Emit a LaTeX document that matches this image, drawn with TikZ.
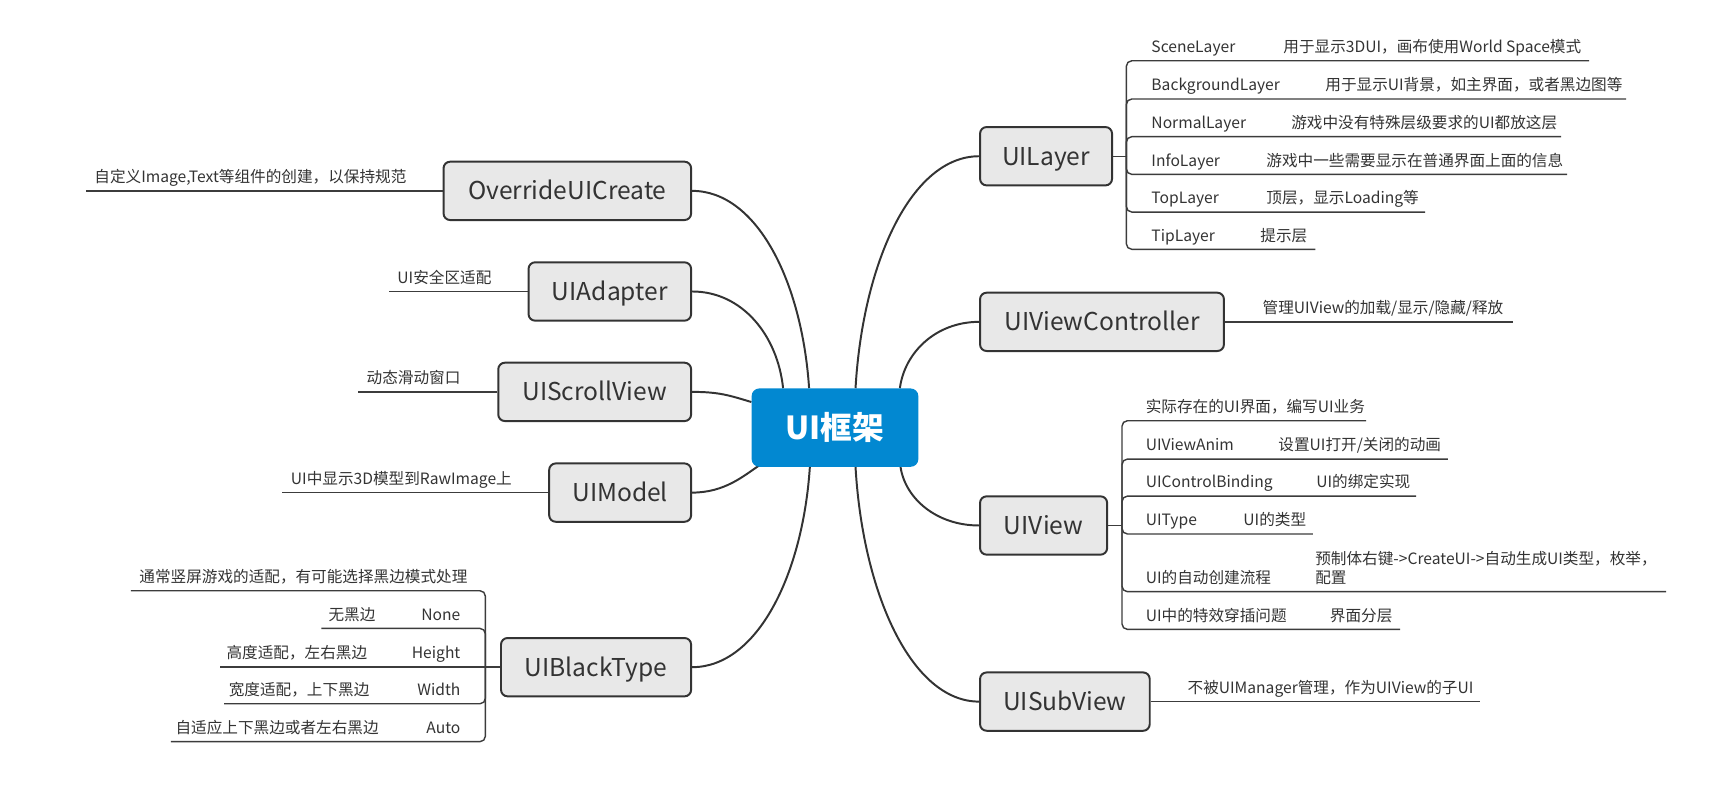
\documentclass[tikz,border=0pt]{standalone}
\usepackage{fontspec}
\setmainfont{Noto Sans CJK SC}
\usetikzlibrary{backgrounds,calc}
\definecolor{ink}{HTML}{333333}
\definecolor{linec}{HTML}{3C3C3C}
\definecolor{boxfill}{HTML}{E8E8E8}
\definecolor{centerblue}{HTML}{0288D1}
\tikzset{
  mainbox/.style={draw=ink, line width=1.8pt, fill=boxfill, rounded corners=6pt,
    minimum height=53.4pt, inner sep=0pt, text=ink, text height=16.2pt, text depth=0pt,
    font=\fontsize{22.5}{27}\selectfont},
  rootbox/.style={fill=centerblue, rounded corners=7pt, minimum width=152.6pt,
    minimum height=71.7pt, inner sep=0pt, text=white, font=\fontsize{29}{34}\selectfont\bfseries},
  conn/.style={draw=ink, line width=1.8pt},
  itemline/.style={draw=linec, line width=1.3pt, rounded corners=5pt},
  lbl/.style={inner sep=0pt, anchor=base west, text=ink, font=\fontsize{14.3}{17}\selectfont},
  lblr/.style={lbl, anchor=base east},
}
\begin{document}
\begin{tikzpicture}[x=1pt,y=-1pt]
\useasboundingbox (0,0) rectangle (1568,718.6);

% ---------- main nodes ----------
\node[rootbox] (root) at (764.3,391.4) {UI框架};
\node[mainbox, minimum width=120.8pt, anchor=west] (layer) at (896.2,143) {UILayer};
\node[mainbox, minimum width=223.2pt, anchor=west] (vctrl) at (896.2,294.6) {UIViewController};
\node[mainbox, minimum width=116.3pt, anchor=west] (view) at (896.2,481) {UIView};
\node[mainbox, minimum width=155.3pt, anchor=west] (sub) at (896.2,642.2) {UISubView};
\node[mainbox, minimum width=226.6pt, anchor=east] (ovr) at (633.5,174.7) {OverrideUICreate};
\node[mainbox, minimum width=148.8pt, anchor=east] (adp) at (633.5,266.8) {UIAdapter};
\node[mainbox, minimum width=176.5pt, anchor=east] (scr) at (633.5,358.7) {UIScrollView};
\node[mainbox, minimum width=129.9pt, anchor=east] (mdl) at (633.5,450.9) {UIModel};
\node[mainbox, minimum width=174pt, anchor=east] (blk) at (633.5,610.7) {UIBlackType};

% ---------- connectors root -> main ----------
\begin{scope}[on background layer]
\draw[conn] (layer.west) .. controls +(-61.8,0) and +(6.7,-115.3) .. ([xshift=95.3pt]root.north west);
\draw[conn] (vctrl.west) .. controls +(-39.4,0) and +(4.3,-32.9) .. ([xshift=135.9pt]root.north west);
\draw[conn] (view.west) .. controls +(-39.1,0) and +(4.3,28.8) .. ([xshift=136.5pt]root.south west);
\draw[conn] (sub.west) .. controls +(-61.8,0) and +(6.7,115.7) .. ([xshift=95.3pt]root.south west);
\draw[conn] (ovr.east) .. controls +(59.3,0) and +(-6.5,-97.7) .. ([xshift=52.8pt]root.north west);
\draw[conn] (adp.east) .. controls +(46.2,0) and +(-5,-48) .. ([xshift=29pt]root.north west);
\draw[conn] (scr.east) .. controls +(25,0) and +(-20,-6) .. ([yshift=23.4pt]root.west);
\draw[conn] (mdl.east) .. controls +(30,0) and +(-15,10) .. ([xshift=8pt,yshift=2pt]root.south west);
\draw[conn] (blk.east) .. controls +(59.7,0) and +(-6.5,98.6) .. ([xshift=53.5pt]root.south west);
\end{scope}

% ---------- UILayer branch ----------
\coordinate (lj) at (1031,143);
\coordinate (l1) at (1454.6,55.6);
\coordinate (l2) at (1488.5,90.6);
\coordinate (l3) at (1429,125.1);
\coordinate (l4) at (1434.5,159.6);
\coordinate (l5) at (1304.5,194.1);
\coordinate (l6) at (1204,228.2);
\draw[itemline] (layer.east) -- (lj);
\foreach \e in {l1,l2,l3,l4,l5,l6} \draw[itemline] (lj) |- (\e);
\node[lbl] (l1a) at (1053.8,48.1) {SceneLayer};
\node[lbl] (l1b) at (1174.6,48.1) {用于显示3DUI，画布使用World Space模式};
\node[lbl] (l2a) at (1053.8,83.1) {BackgroundLayer};
\node[lbl] (l2b) at (1213,83.1) {用于显示UI背景，如主界面，或者黑边图等};
\node[lbl] (l3a) at (1053.8,117.6) {NormalLayer};
\node[lbl] (l3b) at (1181.8,117.6) {游戏中没有特殊层级要求的UI都放这层};
\node[lbl] (l4a) at (1053.8,152.1) {InfoLayer};
\node[lbl] (l4b) at (1159,152.1) {游戏中一些需要显示在普通界面上面的信息};
\node[lbl] (l5a) at (1053.8,186.6) {TopLayer};
\node[lbl] (l5b) at (1159,186.6) {顶层，显示Loading等};
\node[lbl] (l6a) at (1053.8,220.7) {TipLayer};
\node[lbl] (l6b) at (1153.5,220.7) {提示层};

% ---------- UIViewController branch ----------
\coordinate (vcE) at (1384.5,294.6);
\draw[itemline] (vctrl.east) -- (vcE);
\node[lbl] (vct) at (1155.6,287.1) {管理UIView的加载/显示/隐藏/释放};

% ---------- UIView branch ----------
\coordinate (vj) at (1027,481);
\coordinate (v1) at (1250.4,385.1);
\coordinate (v2) at (1325.4,420.2);
\coordinate (v3) at (1296.2,454.1);
\coordinate (v4) at (1201.7,488.8);
\coordinate (v5) at (1525,541.6);
\coordinate (v6) at (1281.6,576.1);
\draw[itemline] (view.east) -- (vj);
\foreach \e in {v1,v2,v3,v4,v5,v6} \draw[itemline] (vj) |- (\e);
\node[lbl] (v1a) at (1048.6,377.6) {实际存在的UI界面，编写UI业务};
\node[lbl] (v2a) at (1048.6,412.7) {UIViewAnim};
\node[lbl] (v2b) at (1170,412.7) {设置UI打开/关闭的动画};
\node[lbl] (v3a) at (1048.6,446.6) {UIControlBinding};
\node[lbl] (v3b) at (1204.7,446.6) {UI的绑定实现};
\node[lbl] (v4a) at (1048.6,481.3) {UIType};
\node[lbl] (v4b) at (1138,481.3) {UI的类型};
\node[lbl] (v5a) at (1048.6,534.1) {UI的自动创建流程};
\node[lbl] (v5b) at (1203.8,517.1) {预制体右键->CreateUI->自动生成UI类型，枚举，};
\node[lbl] (v5c) at (1203.8,534.1) {配置};
\node[lbl] (v6a) at (1048.6,568.6) {UI中的特效穿插问题};
\node[lbl] (v6b) at (1217.2,568.6) {界面分层};

% ---------- UISubView branch ----------
\coordinate (sbE) at (1354.5,642.2);
\draw[itemline] (sub.east) -- (sbE);
\node[lbl] (sbt) at (1086.9,634.7) {不被UIManager管理，作为UIView的子UI};

% ---------- left single branches ----------
\coordinate (ovrL) at (78.6,174.7);
\draw[itemline] (ovr.west) -- (ovrL);
\node[lbl] (ovrt) at (86.2,167.2) {自定义Image,Text等组件的创建，以保持规范};
\coordinate (adpL) at (356.5,266.8);
\draw[itemline] (adp.west) -- (adpL);
\node[lbl] (adpt) at (363.6,259.3) {UI安全区适配};
\coordinate (scrL) at (327.9,358.7);
\draw[itemline] (scr.west) -- (scrL);
\node[lbl] (scrt) at (335.5,351.2) {动态滑动窗口};
\coordinate (mdlL) at (258.5,450.9);
\draw[itemline] (mdl.west) -- (mdlL);
\node[lbl] (mdlt) at (266.1,443.4) {UI中显示3D模型到RawImage上};

% ---------- UIBlackType branch ----------
\coordinate (bj) at (444.3,610.7);
\coordinate (b1) at (119.8,540.7);
\coordinate (b2) at (294.2,575.2);
\coordinate (b3) at (201.8,610.7);
\coordinate (b4) at (205.1,644.2);
\coordinate (b5) at (156.4,678.9);
\draw[itemline] (blk.west) -- (bj);
\draw[itemline] (bj) -- (b3);
\foreach \e in {b1,b2,b4,b5} \draw[itemline] (bj) |- (\e);
\node[lbl] (b1a) at (127.4,533.2) {通常竖屏游戏的适配，有可能选择黑边模式处理};
\node[lblr] (b2a) at (421.6,567.7) {None};
\node[lblr] (b2b) at (343.9,567.7) {无黑边};
\node[lblr] (b3a) at (421.6,603.2) {Height};
\node[lblr] (b3b) at (336.3,603.2) {高度适配，左右黑边};
\node[lblr] (b4a) at (421.6,636.7) {Width};
\node[lblr] (b4b) at (338.4,636.7) {宽度适配，上下黑边};
\node[lblr] (b5a) at (421.6,671.4) {Auto};
\node[lblr] (b5b) at (346.8,671.4) {自适应上下黑边或者左右黑边};
\end{tikzpicture}
\end{document}
